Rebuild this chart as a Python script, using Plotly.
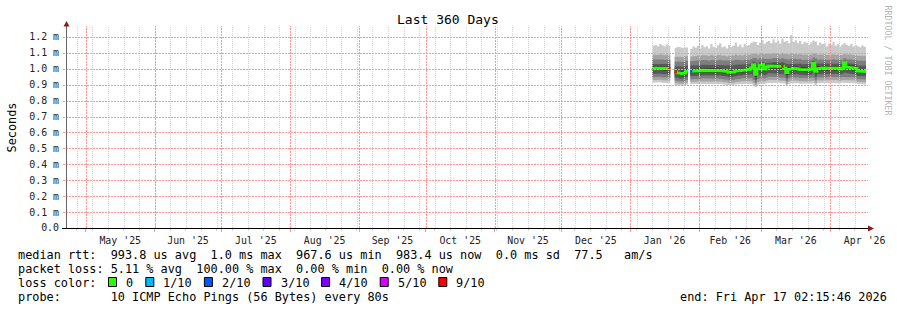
import pandas as pd
import plotly.graph_objects as go

# ---------------- data (values in ms, one value per day) ----------------
first_day = "2026-01-11"          # first daily bin shown
x_start = "2025-04-22 02:15:46"
x_end = "2026-04-17 02:15:46"
title_text = "Last 360 Days"
y_tick_vals = [0.0, 0.1, 0.2, 0.3, 0.4, 0.5, 0.6, 0.7, 0.8, 0.9, 1.0, 1.1, 1.2]
y_tick_text = ["0.0", "0.1 m", "0.2 m", "0.3 m", "0.4 m", "0.5 m", "0.6 m",
               "0.7 m", "0.8 m", "0.9 m", "1.0 m", "1.1 m", "1.2 m"]

rtt_median = [
    1.004, 1.003, 1.005, 1.004, 1.003, 1.004, 1.002, 1.000,
    None, None,
    0.980, 0.975, 0.972, 0.970, 0.974, 0.984,
    None,
    0.985, 0.986, 0.987, 0.988, 0.988,
    0.990, 0.991, 0.989, 0.990, 0.992, 0.991, 0.989, 0.990, 0.988, 0.987,
    0.985, 0.983, 0.978, 0.977, 0.980,
    0.984, 0.986, 0.988, 0.990, 0.992, 0.994, 0.996,
    1.005, 1.026, 0.966, 1.000, 1.022, 1.026, 0.998, 1.012,
    1.017, 1.016, 1.018, 1.015, 1.016, 1.014,
    1.016, 1.004, 0.977, 0.996,
    1.000, 1.002, 1.001, 0.999, 0.996, 0.993, 0.995, 0.992, 0.994, 0.998,
    1.034, 0.984,
    1.000, 1.004, 1.005, 1.004, 1.003, 1.005, 1.004, 1.002, 1.004, 1.003, 0.998, 1.004,
    1.038, 1.012, 1.008, 1.006, 1.004, 1.002,
    0.986, 0.984, 0.983, 0.985, 0.983,
]

loss_pings = [
    0, 0, 0, 0, 0, 0, 0, 10,
    None, None,
    9, 0, 0, 0, 0, 0,
    None,
    2, 0, 0, 0, 0,
    0, 0, 0, 0, 0, 0, 0, 0, 0, 0,
    0, 0, 0, 0, 0,
    0, 0, 0, 0, 0, 0, 0,
    0, 0, 0, 0, 0, 0, 0, 0,
    0, 0, 0, 0, 0, 0,
    9, 0, 0, 0,
    0, 0, 0, 0, 0, 0, 0, 0, 0, 0,
    0, 0,
    0, 0, 0, 0, 0, 0, 0, 0, 0, 0, 0, 0,
    0, 0, 0, 0, 0, 0,
    0, 0, 0, 0, 0,
]

rtt_p10 = [
    1.145, 1.150, 1.142, 1.155, 1.148, 1.140, 1.152, 1.145,
    None, None,
    1.132, 1.138, 1.135, 1.130, 1.136, 1.134,
    None,
    1.125, 1.140, 1.132, 1.145, 1.128,
    1.150, 1.135, 1.142, 1.128, 1.155, 1.138, 1.130, 1.148, 1.160, 1.135,
    1.142, 1.128, 1.150, 1.138, 1.145,
    1.165, 1.140, 1.152, 1.135, 1.158, 1.145, 1.150,
    1.162, 1.172, 1.168, 1.150, 1.165, 1.180, 1.158, 1.170,
    1.175, 1.160, 1.185, 1.165, 1.178, 1.158,
    1.190, 1.170, 1.175, 1.160,
    1.212, 1.168, 1.180, 1.160, 1.175, 1.155, 1.170, 1.162, 1.150, 1.165,
    1.178, 1.172,
    1.148, 1.165, 1.155, 1.160, 1.142, 1.158, 1.150, 1.168, 1.145, 1.155, 1.140, 1.152,
    1.162, 1.150, 1.145, 1.158, 1.140, 1.150,
    1.142, 1.135, 1.148, 1.138, 1.140,
]

rtt_p9 = [
    1.088, 1.090, 1.086, 1.092, 1.089, 1.085, 1.090, 1.087,
    None, None,
    1.075, 1.078, 1.076, 1.072, 1.077, 1.080,
    None,
    1.078, 1.082, 1.080, 1.084, 1.079,
    1.086, 1.082, 1.084, 1.080, 1.088, 1.083, 1.080, 1.085, 1.089, 1.082,
    1.083, 1.078, 1.084, 1.080, 1.083,
    1.090, 1.084, 1.088, 1.083, 1.090, 1.086, 1.088,
    1.092, 1.098, 1.095, 1.088, 1.096, 1.100, 1.092, 1.096,
    1.098, 1.094, 1.100, 1.095, 1.098, 1.092,
    1.100, 1.095, 1.092, 1.090,
    1.098, 1.092, 1.095, 1.090, 1.094, 1.088, 1.092, 1.090, 1.086, 1.090,
    1.100, 1.096,
    1.088, 1.092, 1.090, 1.092, 1.086, 1.090, 1.088, 1.092, 1.086, 1.090, 1.085, 1.088,
    1.095, 1.090, 1.088, 1.090, 1.085, 1.088,
    1.082, 1.080, 1.084, 1.080, 1.082,
]

rtt_p8 = [
    1.058, 1.060, 1.057, 1.061, 1.058, 1.056, 1.059, 1.057,
    None, None,
    1.045, 1.048, 1.046, 1.043, 1.047, 1.050,
    None,
    1.048, 1.051, 1.050, 1.053, 1.049,
    1.055, 1.052, 1.053, 1.050, 1.056, 1.053, 1.050, 1.054, 1.057, 1.052,
    1.052, 1.048, 1.052, 1.049, 1.052,
    1.057, 1.053, 1.056, 1.052, 1.057, 1.055, 1.056,
    1.062, 1.070, 1.066, 1.058, 1.068, 1.070, 1.062, 1.066,
    1.066, 1.063, 1.068, 1.064, 1.066, 1.061,
    1.068, 1.063, 1.060, 1.058,
    1.064, 1.060, 1.062, 1.058, 1.061, 1.056, 1.059, 1.057, 1.055, 1.058,
    1.072, 1.064,
    1.057, 1.060, 1.058, 1.060, 1.055, 1.058, 1.057, 1.060, 1.055, 1.058, 1.054, 1.057,
    1.068, 1.060, 1.057, 1.058, 1.055, 1.056,
    1.050, 1.048, 1.051, 1.048, 1.050,
]

rtt_p7 = [
    1.030, 1.032, 1.031, 1.033, 1.030, 1.029, 1.031, 1.030,
    None, None,
    1.015, 1.016, 1.014, 1.012, 1.015, 1.020,
    None,
    1.020, 1.022, 1.022, 1.024, 1.022,
    1.026, 1.024, 1.024, 1.023, 1.027, 1.025, 1.023, 1.025, 1.026, 1.023,
    1.022, 1.020, 1.021, 1.019, 1.022,
    1.026, 1.024, 1.026, 1.024, 1.028, 1.027, 1.028,
    1.036, 1.046, 1.040, 1.032, 1.042, 1.046, 1.036, 1.040,
    1.040, 1.038, 1.042, 1.038, 1.040, 1.036,
    1.042, 1.036, 1.030, 1.030,
    1.034, 1.032, 1.033, 1.030, 1.031, 1.028, 1.030, 1.028, 1.027, 1.030,
    1.048, 1.034,
    1.030, 1.032, 1.032, 1.032, 1.030, 1.032, 1.031, 1.032, 1.030, 1.031, 1.028, 1.031,
    1.050, 1.036, 1.032, 1.032, 1.030, 1.030,
    1.020, 1.018, 1.019, 1.018, 1.019,
]

rtt_p6 = [
    1.016, 1.015, 1.017, 1.016, 1.015, 1.016, 1.014, 1.013,
    None, None,
    0.994, 0.990, 0.988, 0.986, 0.990, 0.998,
    None,
    0.999, 1.000, 1.001, 1.002, 1.002,
    1.004, 1.005, 1.003, 1.004, 1.006, 1.005, 1.003, 1.004, 1.002, 1.001,
    0.999, 0.997, 0.993, 0.992, 0.995,
    0.998, 1.000, 1.002, 1.004, 1.006, 1.008, 1.010,
    1.020, 1.036, 1.010, 1.014, 1.034, 1.038, 1.013, 1.026,
    1.030, 1.029, 1.031, 1.028, 1.029, 1.027,
    1.030, 1.018, 0.995, 1.010,
    1.014, 1.016, 1.015, 1.013, 1.010, 1.007, 1.009, 1.006, 1.008, 1.012,
    1.044, 1.000,
    1.014, 1.018, 1.019, 1.018, 1.017, 1.019, 1.018, 1.016, 1.018, 1.017, 1.012, 1.018,
    1.048, 1.026, 1.022, 1.020, 1.018, 1.016,
    1.000, 0.998, 0.997, 0.999, 0.997,
]

rtt_p5 = [
    0.992, 0.991, 0.993, 0.992, 0.991, 0.992, 0.990, 0.988,
    None, None,
    0.966, 0.962, 0.958, 0.956, 0.960, 0.970,
    None,
    0.972, 0.973, 0.974, 0.975, 0.975,
    0.977, 0.978, 0.976, 0.977, 0.979, 0.978, 0.976, 0.977, 0.975, 0.974,
    0.972, 0.970, 0.965, 0.964, 0.967,
    0.971, 0.973, 0.975, 0.977, 0.979, 0.981, 0.983,
    0.990, 1.012, 0.952, 0.985, 1.008, 1.012, 0.984, 0.998,
    1.004, 1.003, 1.005, 1.002, 1.003, 1.001,
    1.002, 0.990, 0.962, 0.982,
    0.987, 0.989, 0.988, 0.986, 0.983, 0.980, 0.982, 0.979, 0.981, 0.985,
    1.020, 0.970,
    0.987, 0.991, 0.992, 0.991, 0.990, 0.992, 0.991, 0.989, 0.991, 0.990, 0.985, 0.991,
    1.024, 0.999, 0.995, 0.993, 0.991, 0.989,
    0.973, 0.971, 0.970, 0.972, 0.970,
]

rtt_p4 = [
    0.968, 0.970, 0.967, 0.971, 0.968, 0.966, 0.969, 0.966,
    None, None,
    0.945, 0.942, 0.938, 0.936, 0.940, 0.950,
    None,
    0.954, 0.956, 0.955, 0.958, 0.956,
    0.960, 0.958, 0.959, 0.957, 0.961, 0.959, 0.957, 0.960, 0.958, 0.956,
    0.955, 0.952, 0.948, 0.946, 0.950,
    0.954, 0.956, 0.958, 0.960, 0.962, 0.963, 0.964,
    0.966, 0.958, 0.930, 0.958, 0.962, 0.966, 0.960, 0.966,
    0.972, 0.970, 0.973, 0.969, 0.971, 0.968,
    0.970, 0.966, 0.940, 0.960,
    0.966, 0.968, 0.967, 0.965, 0.962, 0.960, 0.962, 0.959, 0.960, 0.964,
    0.972, 0.948,
    0.966, 0.969, 0.970, 0.969, 0.968, 0.970, 0.969, 0.967, 0.969, 0.968, 0.964, 0.969,
    0.976, 0.972, 0.970, 0.970, 0.968, 0.966,
    0.955, 0.953, 0.952, 0.954, 0.952,
]

rtt_p3 = [
    0.947, 0.949, 0.946, 0.950, 0.947, 0.945, 0.948, 0.945,
    None, None,
    0.926, 0.923, 0.920, 0.918, 0.922, 0.930,
    None,
    0.934, 0.936, 0.935, 0.938, 0.936,
    0.940, 0.938, 0.939, 0.937, 0.941, 0.939, 0.937, 0.940, 0.938, 0.936,
    0.935, 0.932, 0.928, 0.926, 0.930,
    0.934, 0.936, 0.938, 0.940, 0.942, 0.943, 0.944,
    0.942, 0.932, 0.912, 0.936, 0.940, 0.944, 0.940, 0.946,
    0.950, 0.948, 0.951, 0.947, 0.949, 0.946,
    0.948, 0.944, 0.922, 0.940,
    0.946, 0.948, 0.947, 0.945, 0.942, 0.940, 0.942, 0.939, 0.940, 0.944,
    0.946, 0.928,
    0.946, 0.949, 0.950, 0.949, 0.948, 0.950, 0.949, 0.947, 0.949, 0.948, 0.944, 0.949,
    0.950, 0.950, 0.949, 0.950, 0.948, 0.946,
    0.936, 0.934, 0.933, 0.935, 0.933,
]

rtt_p2 = [
    0.928, 0.930, 0.927, 0.931, 0.928, 0.926, 0.929, 0.926,
    None, None,
    0.910, 0.907, 0.905, 0.903, 0.906, 0.912,
    None,
    0.917, 0.919, 0.918, 0.921, 0.919,
    0.922, 0.920, 0.921, 0.919, 0.923, 0.921, 0.919, 0.922, 0.920, 0.918,
    0.917, 0.914, 0.910, 0.908, 0.912,
    0.916, 0.918, 0.920, 0.922, 0.923, 0.924, 0.925,
    0.922, 0.912, 0.896, 0.916, 0.920, 0.924, 0.920, 0.926,
    0.930, 0.928, 0.931, 0.927, 0.929, 0.926,
    0.928, 0.924, 0.905, 0.920,
    0.926, 0.928, 0.927, 0.925, 0.922, 0.920, 0.922, 0.919, 0.920, 0.924,
    0.926, 0.910,
    0.926, 0.929, 0.930, 0.929, 0.928, 0.930, 0.929, 0.927, 0.929, 0.928, 0.924, 0.929,
    0.930, 0.930, 0.929, 0.930, 0.928, 0.926,
    0.918, 0.916, 0.915, 0.917, 0.915,
]

rtt_p1 = [
    0.912, 0.914, 0.911, 0.915, 0.912, 0.910, 0.913, 0.910,
    None, None,
    0.898, 0.895, 0.893, 0.891, 0.894, 0.900,
    None,
    0.903, 0.905, 0.904, 0.906, 0.904,
    0.907, 0.905, 0.906, 0.904, 0.908, 0.906, 0.904, 0.907, 0.905, 0.903,
    0.902, 0.899, 0.896, 0.894, 0.898,
    0.901, 0.903, 0.905, 0.906, 0.907, 0.908, 0.909,
    0.905, 0.895, 0.884, 0.900, 0.904, 0.908, 0.904, 0.910,
    0.912, 0.911, 0.913, 0.910, 0.912, 0.909,
    0.911, 0.907, 0.892, 0.905,
    0.910, 0.912, 0.911, 0.909, 0.906, 0.905, 0.906, 0.904, 0.905, 0.908,
    0.908, 0.895,
    0.910, 0.912, 0.913, 0.912, 0.911, 0.913, 0.912, 0.910, 0.912, 0.911, 0.908, 0.912,
    0.912, 0.913, 0.912, 0.913, 0.911, 0.910,
    0.904, 0.902, 0.901, 0.903, 0.901,
]

smoke_colors = ["#cacaca", "#a4a4a4", "#7e7e7e", "#585858", "#323232"]
loss_keys = [0, 1, 2, 3, 5, 7, 10]
loss_labels = ["0", "1/10", "2/10", "3/10", "4/10", "5/10", "9/10"]
loss_colors = ["#26ff00", "#00b8ff", "#0059ff", "#5e00ff", "#7e00ff", "#dd00ff", "#ff0000"]

line_median = "median rtt:  993.8 us avg  1.0 ms max  967.6 us min  983.4 us now  0.0 ms sd  77.5   am/s"
line_loss = "packet loss: 5.11 % avg  100.00 % max  0.00 % min  0.00 % now"
line_color = "loss color:"
line_probe = "probe:       10 ICMP Echo Pings (56 Bytes) every 80s"
line_end = "end: Fri Apr 17 02:15:46 2026"
watermark = "RRDTOOL / TOBI OETIKER"

# ---------------- helpers ----------------
MONO = "DejaVu Sans Mono"
L, T, W, H = 66, 28, 800, 200          # plot area in pixels
Y_MAX = H / 159.2
T_START = pd.Timestamp(x_start)
T_END = pd.Timestamp(x_end)


def px(xp):
    return (xp - L) / W


def py(yp):
    return (T + H - yp) / H


def nb(s):
    return s.replace(" ", "\u00a0")


def date_to_px(d):
    return L + (d - T_START) / (T_END - T_START) * W


def val_to_px(v):
    return T + H - v / Y_MAX * H


t0 = pd.Timestamp(first_day)
one = pd.Timedelta(days=1)
days = [t0 + i * one for i in range(len(rtt_median))]


def runs(vals):
    out, cur = [], []
    for i, v in enumerate(vals):
        if v is None:
            if cur:
                out.append(cur)
            cur = []
        else:
            cur.append(i)
    if cur:
        out.append(cur)
    return out


def step_path(idx, vals):
    xs, ys = [], []
    for i in idx:
        xs += [days[i], days[i] + one]
        ys += [vals[i], vals[i]]
    return xs, ys


def loss_class(n):
    for k, key in enumerate(loss_keys):
        if n <= key:
            return k
    return len(loss_keys) - 1


fig = go.Figure()

segments = runs(rtt_median)
band_pairs = [(rtt_p1, rtt_p10), (rtt_p2, rtt_p9), (rtt_p3, rtt_p8),
              (rtt_p4, rtt_p7), (rtt_p5, rtt_p6)]
for (lo, hi), col in zip(band_pairs, smoke_colors):
    for seg in segments:
        xh, yh = step_path(seg, hi)
        xl, yl = step_path(seg, lo)
        fig.add_trace(go.Scatter(
            x=xh + xl[::-1], y=yh + yl[::-1], mode="lines", fill="toself",
            fillcolor=col, line=dict(width=0), hoverinfo="skip", showlegend=False))

# median line, coloured by loss
mx, my = [], []
for seg in segments:
    xs, ys = step_path(seg, rtt_median)
    mx += xs + [None]
    my += ys + [None]
fig.add_trace(go.Scatter(x=mx, y=my, mode="lines",
                         line=dict(color=loss_colors[0], width=3),
                         hoverinfo="skip", showlegend=False))
for k in range(1, len(loss_colors)):
    lx, ly = [], []
    for i, n in enumerate(loss_pings):
        if n is not None and n > 0 and loss_class(n) == k:
            lx += [days[i], days[i] + one, None]
            ly += [rtt_median[i], rtt_median[i], None]
    if lx:
        fig.add_trace(go.Scatter(x=lx, y=ly, mode="lines",
                                 line=dict(color=loss_colors[k], width=3),
                                 hoverinfo="skip", showlegend=False))

# ---------------- grid / axes decorations (snapped to pixel centres) ----------------
shapes = []
red_grid = dict(color="rgb(255,150,150)", width=1, dash="2px,1px")
gray_grid = dict(color="rgb(212,212,212)", width=1, dash="1px,1px")
month_starts = list(pd.date_range("2025-05-01", x_end, freq="MS"))
for wk in pd.date_range("2025-04-27", x_end, freq="7D"):
    xp = round(date_to_px(wk)) + 0.5
    shapes.append(dict(type="line", xref="paper", yref="paper", x0=px(xp), x1=px(xp),
                       y0=py(T + H), y1=py(26), line=gray_grid, layer="above"))
for ms in month_starts:
    xp = round(date_to_px(ms)) + 0.5
    shapes.append(dict(type="line", xref="paper", yref="paper", x0=px(xp), x1=px(xp),
                       y0=py(T + H), y1=py(26), line=red_grid, layer="above"))
for v in y_tick_vals[1:]:
    yp = round(val_to_px(v)) + 0.5
    shapes.append(dict(type="line", xref="paper", yref="paper", x0=px(63), x1=px(868),
                       y0=py(yp), y1=py(yp), line=red_grid, layer="above"))
# axis lines
shapes.append(dict(type="line", xref="paper", yref="paper", x0=px(66.5), x1=px(66.5),
                   y0=py(228.5), y1=py(25), line=dict(color="#666666", width=1), layer="above"))
shapes.append(dict(type="line", xref="paper", yref="paper", x0=px(62), x1=px(869),
                   y0=py(228.5), y1=py(228.5), line=dict(color="#000000", width=1), layer="above"))
# arrow heads
shapes.append(dict(type="path", xref="paper", yref="paper",
                   path=f"M {px(66.5)} {py(21)} L {px(63.5)} {py(26.5)} L {px(69.5)} {py(26.5)} Z",
                   fillcolor="#8b1a1a", line=dict(width=0), layer="above"))
shapes.append(dict(type="path", xref="paper", yref="paper",
                   path=f"M {px(874)} {py(228.5)} L {px(868)} {py(225.5)} L {px(868)} {py(231.5)} Z",
                   fillcolor="#8b1a1a", line=dict(width=0), layer="above"))

# loss colour legend boxes
annotations = []
bx = 108.5
for lab, col in zip(loss_labels, loss_colors):
    shapes.append(dict(type="rect", xref="paper", yref="paper",
                       x0=px(bx), x1=px(bx + 8), y0=py(286.5), y1=py(277.5),
                       fillcolor=col, line=dict(color="#000000", width=1)))
    annotations.append(dict(x=px(bx + 15.5), y=py(282.5), xref="paper", yref="paper",
                            text=nb(lab), showarrow=False, xanchor="left", yanchor="middle",
                            font=dict(family=MONO, size=11.85, color="#000")))
    bx += 30.2 + 7.1 * len(lab)

legend_rows = [(line_median, 254), (line_loss, 268), (line_color, 282), (line_probe, 296)]
for txt, yp in legend_rows:
    annotations.append(dict(x=px(16), y=py(yp + 0.5), xref="paper", yref="paper",
                            text=nb(txt), showarrow=False, xanchor="left", yanchor="middle",
                            font=dict(family=MONO, size=11.85, color="#000")))
annotations.append(dict(x=px(678), y=py(296.5), xref="paper", yref="paper",
                        text=nb(line_end), showarrow=False, xanchor="left", yanchor="middle",
                        font=dict(family=MONO, size=11.85, color="#000")))
annotations.append(dict(x=px(448), y=py(19), xref="paper", yref="paper",
                        text=nb(title_text), showarrow=False, xanchor="center", yanchor="middle",
                        font=dict(family=MONO, size=13, color="#000")))
annotations.append(dict(x=px(11), y=py(127.5), xref="paper", yref="paper",
                        text="Seconds", showarrow=False, textangle=-90,
                        xanchor="center", yanchor="middle",
                        font=dict(family=MONO, size=11.85, color="#000")))
annotations.append(dict(x=px(887.5), y=py(60), xref="paper", yref="paper",
                        text=nb(watermark), showarrow=False, textangle=90,
                        xanchor="center", yanchor="middle",
                        font=dict(family=MONO, size=8.3, color="#b4b4b4")))

fig.update_layout(
    width=897, height=310, autosize=False,
    margin=dict(l=L, r=897 - L - W, t=T, b=310 - T - H, pad=0),
    paper_bgcolor="#ffffff", plot_bgcolor="#ffffff",
    showlegend=False, shapes=shapes, annotations=annotations,
    xaxis=dict(type="date", range=[x_start, x_end], showgrid=False, zeroline=False,
               showline=False, dtick="M1", tick0="2025-05-01", tickformat="%b '%y",
               ticklabelmode="period", ticks="outside", ticklen=3,
               tickcolor="rgb(255,150,150)",
               tickfont=dict(family=MONO, size=9.9, color="#222"),
               minor=dict(dtick=7 * 86400000, tick0="2025-04-27", ticks="outside",
                          ticklen=2, tickcolor="#d0d0d0", showgrid=False),
               fixedrange=True),
    yaxis=dict(range=[0, Y_MAX], showgrid=False, zeroline=False, showline=False,
               tickvals=y_tick_vals, ticktext=y_tick_text, ticks="outside", ticklen=4,
               tickcolor="rgba(0,0,0,0)",
               tickfont=dict(family=MONO, size=9.9, color="#222"), fixedrange=True),
)

fig.write_html("out.html")
